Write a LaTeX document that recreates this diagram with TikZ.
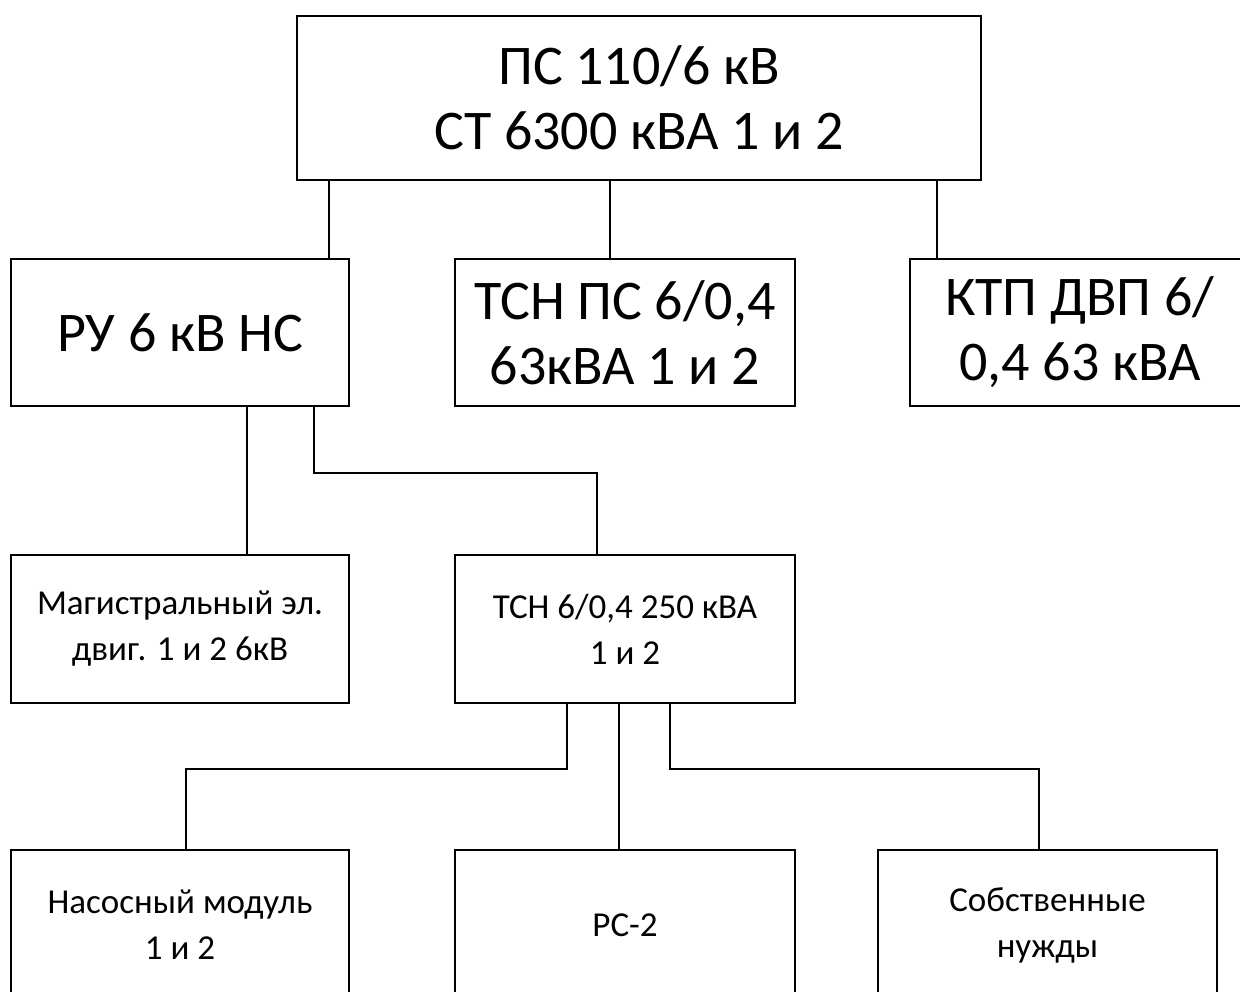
\documentclass[tikz,border=0pt]{standalone}
\usepackage{fontspec}
\setmainfont{Carlito}
\begin{document}
\begin{tikzpicture}[x=1pt,y=-1pt,
  box/.style={draw=black,line width=1.8pt,rectangle,inner sep=0pt,align=center},
  big/.style={font=\fontsize{56}{65}\selectfont},
  small/.style={font=\fontsize{35}{46}\selectfont},
  wire/.style={draw=black,line width=1.8pt}]
\useasboundingbox (0,0) rectangle (1240,992);
\clip (0,0) rectangle (1240,992);
\fill[white] (0,0) rectangle (1240,992);
% boxes
\node[box,big,minimum width=684pt,minimum height=164pt] (top) at (639,98) {ПС 110/6 кВ\\СТ 6300 кВА 1 и 2};
\node[box,big,minimum width=338pt,minimum height=147pt] (ru) at (180,332.5) {РУ 6 кВ НС};
\node[box,big,minimum width=340pt,minimum height=147pt] (tsnps) at (625,332.5) {ТСН ПС 6/0,4\\63кВА 1 и 2};
\node[box,big,minimum width=340pt,minimum height=147pt] (ktp) at (1080,332.5) {КТП ДВП 6/\\0,4 63 кВА};
\node[box,small,minimum width=338pt,minimum height=148pt] (mag) at (180,629) {Магистральный эл.\\двиг. 1 и 2 6кВ};
\node[box,small,minimum width=340pt,minimum height=148pt] (tsn) at (625,629) {ТСН 6/0,4 250 кВА\\1 и 2};
\node[box,small,minimum width=338pt,minimum height=150pt] (nas) at (180,925) {Насосный модуль\\1 и 2};
\node[box,small,minimum width=340pt,minimum height=150pt] (pc) at (625,925) {РС-2};
\node[box,small,minimum width=339pt,minimum height=150pt] (sob) at (1047.5,925) {Собственные\\нужды};
% connectors
\draw[wire] (top.south -| 329,0) -- (ru.north -| 329,0);
\draw[wire] (top.south -| 610,0) -- (tsnps.north -| 610,0);
\draw[wire] (top.south -| 937,0) -- (ktp.north -| 937,0);
\draw[wire] (ru.south -| 247,0) -- (mag.north -| 247,0);
\draw[wire] (ru.south -| 314,0) -- (314,473) -- (597,473) -- (tsn.north -| 597,0);
\draw[wire] (tsn.south -| 567,0) -- (567,769) -- (186,769) -- (nas.north -| 186,0);
\draw[wire] (tsn.south -| 619,0) -- (pc.north -| 619,0);
\draw[wire] (tsn.south -| 670,0) -- (670,769) -- (1039,769) -- (sob.north -| 1039,0);
\end{tikzpicture}
\end{document}
